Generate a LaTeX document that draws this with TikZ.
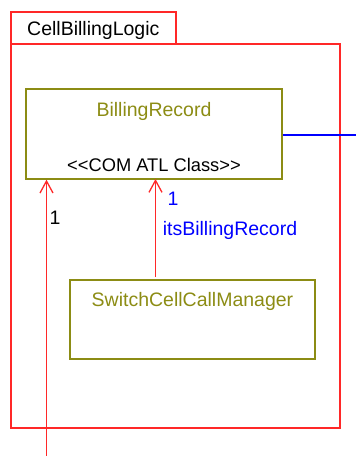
\documentclass[tikz,border=0pt]{standalone}
\usepackage{fontspec}
\newfontfamily\umlfont{Liberation Sans}
\usetikzlibrary{positioning,arrows.meta}
\definecolor{umlred}{RGB}{255,40,40}
\definecolor{umlolive}{RGB}{140,140,20}
\definecolor{umlblue}{RGB}{0,0,255}
\begin{document}
\begin{tikzpicture}[
  x=1pt, y=-1pt,
  every node/.style={font=\umlfont\fontsize{19.5}{23}\selectfont, inner sep=0pt},
  pkgbox/.style={draw=umlred, line width=1.3pt},
  classbox/.style={draw=umlolive, line width=1.3pt},
  classname/.style={text=umlolive},
  stereo/.style={text=black, font=\umlfont\fontsize{18.3}{22}\selectfont},
  assoc/.style={-{Straight Barb[length=12pt, width=13pt, line width=1.3pt]}, draw=umlred, line width=1.3pt},
  rolelabel/.style={text=umlblue}
]
\useasboundingbox (0,0) rectangle (356,456);

% Package
\draw[pkgbox] (11,44) rectangle (176,12);
\draw[pkgbox] (11,44) rectangle (340,428);
\node[anchor=west] (pkg_name) at (27,30) {CellBillingLogic};

% Classes
\node[classbox, minimum width=256pt, minimum height=90pt] (billing) at (154,134) {};
\node[classname] (billing_name) at (154,111) {BillingRecord};
\node[stereo] (billing_stereo) at (154,165) {<<COM ATL Class>>};

\node[classbox, minimum width=245pt, minimum height=79pt] (scm) at (192.5,319.5) {};
\node[classname] (scm_name) at (192.5,301) {SwitchCellCallManager};

% Associations
\coordinate (left_in) at (46.5,456);
\coordinate (blue_out) at (356,135);
\draw[assoc] (left_in) -- (left_in |- billing.south);
\node (left_mult) at (55,218) {1};

\draw[assoc] (155.5,277) -- (155.5,179);
\node[rolelabel] (its_mult) at (173,199) {1};
\node[rolelabel] (its_role) at (230,230) {itsBillingRecord};

\draw[umlblue, line width=1.2pt] (billing.east |- blue_out) -- (blue_out);

\end{tikzpicture}
\end{document}
